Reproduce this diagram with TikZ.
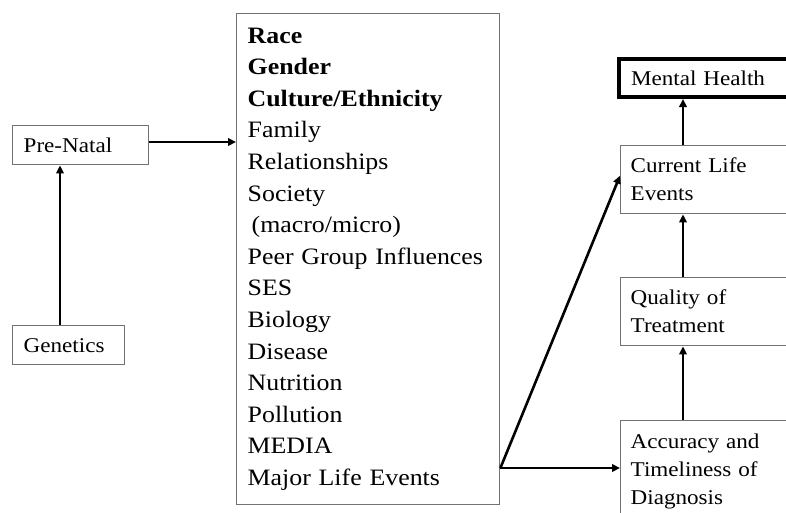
\documentclass[tikz,border=0pt]{standalone}
\usepackage{fontspec}
\setmainfont{Liberation Serif}[FakeStretch=1.1]
\usetikzlibrary{arrows.meta}
\begin{document}
\begin{tikzpicture}[x=1pt,y=-1pt,
  box/.style={draw=black!55, line width=1.4pt, anchor=north west, align=left, inner ysep=0pt},
  arr/.style={line width=2.6pt, -{Triangle[length=8pt,width=7.5pt]}},
  small/.style={font=\fontsize{21}{28}\selectfont},
  rbox/.style={box, small, text width=170pt, inner xsep=10pt},
]
\fill[white] (0,0) rectangle (786,512);
\useasboundingbox (0,0) rectangle (786,512);

% left column
\node[box, small, minimum width=136pt, minimum height=39pt, text width=114pt, inner xsep=11pt] (pre) at (12,125) {Pre-Natal};
\node[box, small, minimum width=112pt, minimum height=39pt, text width=90pt, inner xsep=11pt] (gen) at (12,325) {Genetics};

% central list of factors
\node[box, font=\fontsize{23.5}{31.6}\selectfont, text width=241pt, inner xsep=11pt, minimum height=491pt] (big) at (236,13)
  {\textbf{Race}\\ \textbf{Gender}\\ \textbf{Culture/Ethnicity}\\ Family\\ Relationships\\ Society\\
   \hspace*{4pt}(macro/micro)\\ Peer Group Influences\\ SES\\ Biology\\ Disease\\ Nutrition\\ Pollution\\ MEDIA\\ Major Life Events};

% right column
\node[draw=black, line width=4pt, anchor=north west, align=left, small, text width=170pt, inner xsep=12pt, inner ysep=0pt, minimum height=38pt] (mh) at (617,57) {Mental Health};
\node[rbox, minimum height=68pt] (cur) at (620,145) {Current Life\\Events};
\node[rbox, minimum height=68pt] (qual) at (620,277) {Quality of\\Treatment};
\node[rbox, inner ysep=13pt] (acc) at (620,420) {Accuracy and\\Timeliness of\\Diagnosis};

% connectors
\coordinate (gx) at (60,0);
\draw[arr] (gx |- gen.north) -- (gx |- pre.south);
\coordinate (py) at (0,142);
\draw[arr] (pre.east |- py) -- (py -| big.west);

\coordinate (vx) at (683,0);
\draw[arr] (vx |- acc.north) -- (vx |- qual.south);
\draw[arr] (vx |- qual.north) -- (vx |- cur.south);
\draw[arr] (vx |- cur.north) -- (vx |- mh.south);

\coordinate (jy) at (0,468);
\coordinate (j) at (big.east |- jy);
\draw[arr] (j) -- (j -| acc.west);
\draw[arr] (j) -- ([yshift=4pt]cur.west);
\end{tikzpicture}
\end{document}
